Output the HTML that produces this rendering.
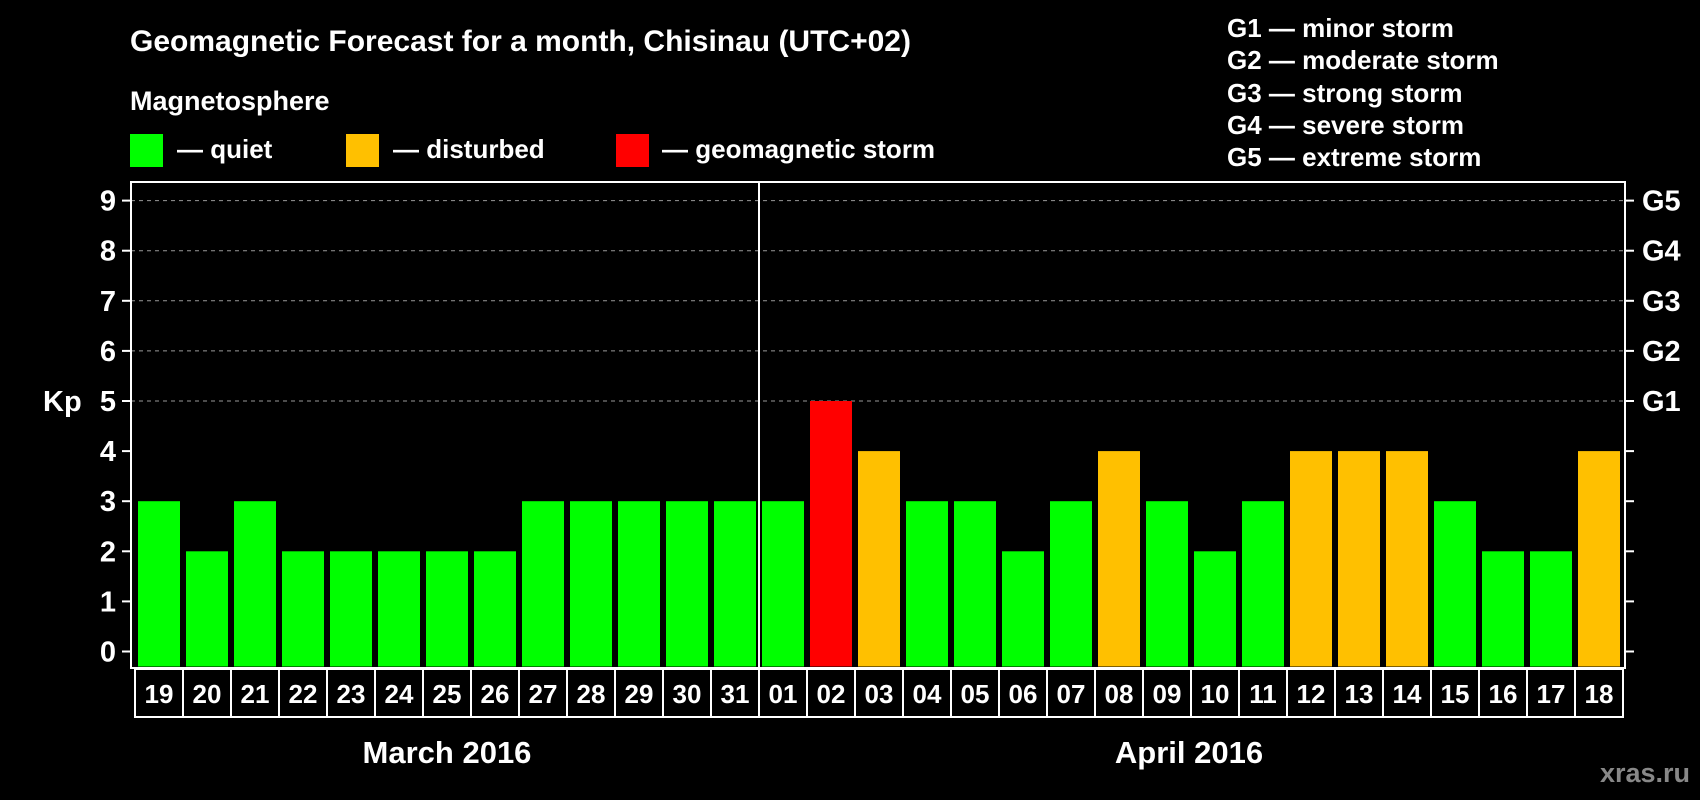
<!DOCTYPE html>
<html><head><meta charset="utf-8"><style>
html,body{margin:0;padding:0;background:#000;}
svg{display:block;font-family:"Liberation Sans",Arial,sans-serif;font-weight:bold;}
</style></head><body>
<svg id="chart" width="1700" height="800" viewBox="0 0 1700 800">
<rect width="1700" height="800" fill="#000"/>
<text x="130" y="51" fill="#fff" font-size="30">Geomagnetic Forecast for a month, Chisinau (UTC+02)</text>
<text x="130" y="110" fill="#fff" font-size="27">Magnetosphere</text>
<rect x="130" y="134" width="33" height="33" fill="#00ff00"/>
<text x="177" y="158" fill="#fff" font-size="26">— quiet</text>
<rect x="346" y="134" width="33" height="33" fill="#ffc000"/>
<text x="393" y="158" fill="#fff" font-size="26">— disturbed</text>
<rect x="616" y="134" width="33" height="33" fill="#ff0000"/>
<text x="662" y="158" fill="#fff" font-size="26">— geomagnetic storm</text>
<g font-size="26" fill="#fff">
<text x="1227" y="37">G1 — minor storm</text>
<text x="1227" y="69">G2 — moderate storm</text>
<text x="1227" y="102">G3 — strong storm</text>
<text x="1227" y="134">G4 — severe storm</text>
<text x="1227" y="166">G5 — extreme storm</text>
</g>
<text x="43" y="411" fill="#fff" font-size="29">Kp</text>
<g id="plot"></g>
<text x="447" y="763" fill="#fff" font-size="31" text-anchor="middle">March 2016</text>
<text x="1189" y="763" fill="#fff" font-size="31" text-anchor="middle">April 2016</text>
<text x="1690" y="782" fill="#888" font-size="27" text-anchor="end">xras.ru</text>
</svg>
<script>
const days=["19","20","21","22","23","24","25","26","27","28","29","30","31","01","02","03","04","05","06","07","08","09","10","11","12","13","14","15","16","17","18"];
const kp=[3,2,3,2,2,2,2,2,3,3,3,3,3,3,5,4,3,3,2,3,4,3,2,3,4,4,4,3,2,2,4];
const yTicks=[0,1,2,3,4,5,6,7,8,9];
const gLabels=["G1","G2","G3","G4","G5"];
const gLevels=[5,6,7,8,9];
const NS="http://www.w3.org/2000/svg";
const g=document.getElementById('plot');
const L=131,R=1625,T=182,B=668;
const y=v=>651.5-v*50.1;
const pitch=48,x0=135;
const x=i=>x0+i*pitch;
function mk(t,a){const e=document.createElementNS(NS,t);for(const k in a)e.setAttribute(k,a[k]);g.appendChild(e);return e;}
yTicks.forEach(v=>{
  if(v>=5){const l=mk('line',{x1:L,x2:R,y1:y(v),y2:y(v),stroke:'#999','stroke-dasharray':'4 4','stroke-width':1});
  
  }
  const t=mk('line',{x1:L-9,x2:L,y1:y(v),y2:y(v),stroke:'#fff','stroke-width':2});
  
  
  const t2=mk('line',{x1:R,x2:R+9,y1:y(v),y2:y(v),stroke:'#fff','stroke-width':2});
  
  
  const lb=mk('text',{x:116,y:y(v)+10,fill:'#fff','font-size':29,'text-anchor':'end'});
  lb.textContent=v;
  
  
});
gLevels.forEach((v,i)=>{
  const lb=mk('text',{x:1642,y:y(v)+10,fill:'#fff','font-size':29});
  lb.textContent=gLabels[i];
  
  
});
kp.forEach((v,i)=>{
  const c=v>=5?'#ff0000':(v>=4?'#ffc000':'#00ff00');
  const b=mk('rect',{x:x(i)+3,y:y(v),width:42,height:y(0)-y(v)+15,fill:c});
  
  
  const bx=mk('rect',{x:x(i),y:669,width:pitch,height:48,fill:'none',stroke:'#fff','stroke-width':2});
  
  
  const t=mk('text',{x:x(i)+pitch/2,y:703,fill:'#fff','font-size':26,'text-anchor':'middle'});
  t.textContent=days[i];
  
  
});
const fr=mk('rect',{x:L,y:T,width:R-L,height:B-T,fill:'none',stroke:'#fff','stroke-width':2});


const di=days.indexOf("01");
const dv=mk('line',{x1:x(di),x2:x(di),y1:T,y2:B,stroke:'#fff','stroke-width':2});


</script>
</body></html>
